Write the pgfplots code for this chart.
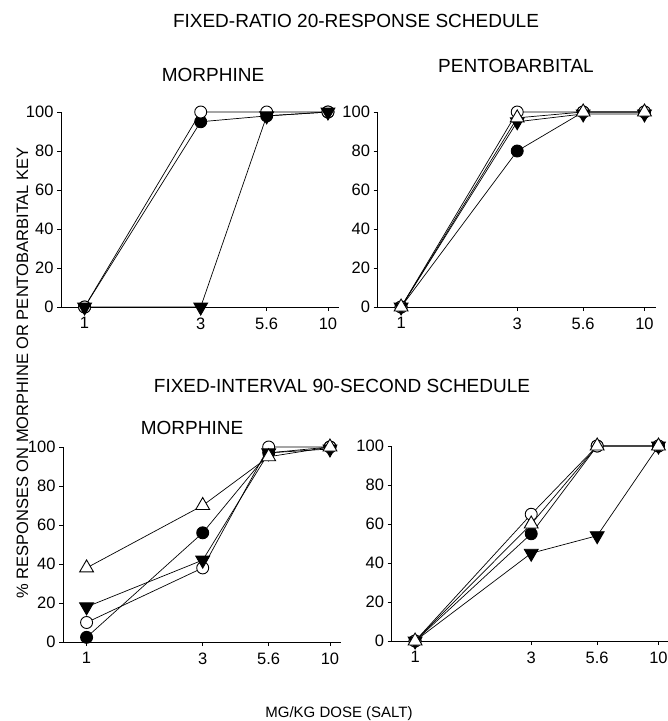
\documentclass[border=0pt]{standalone}
\usepackage{fontspec}
\setmainfont{Liberation Sans}
\usepackage{pgfplots}
\pgfplotsset{compat=1.18}

\pgfplotsset{
  drugpanel/.style={
    scale only axis, width=278bp, height=195bp,
    xmin=0.8, xmax=11.1, ymin=0, ymax=100,
    axis x line*=bottom, axis y line*=left,
    axis line style={-, line width=0.8pt},
    xtick={1,3,5.6,10}, xticklabels={1,3,5.6,10},
    ytick={0,20,40,60,80,100}, yticklabels={0,20,40,60,80,100},
    xminorticks=false,
    tick align=outside, major tick length=4bp,
    tick style={line width=0.8pt, black},
    ticklabel style={font=\fontsize{16.5bp}{18bp}\selectfont},
    xticklabel style={yshift=-3bp},
    clip=false,
  },
  fcirc/.style={black, line width=0.7pt, mark=*, mark size=6bp, mark options={fill=black, line width=0.9pt}},
  ocirc/.style={black, line width=0.7pt, mark=*, mark size=6bp, mark options={fill=white, line width=0.9pt}},
  dtri/.style={black, line width=0.7pt, mark=triangle*, mark size=8bp, mark options={rotate=180, fill=black, line width=0.9pt}},
  otri/.style={black, line width=0.7pt, mark=triangle*, mark size=8bp, mark options={fill=white, line width=0.9pt}},
}

\begin{document}
\begin{tikzpicture}
\path[use as bounding box] (0,0) rectangle (668bp,-721bp);

% fixed-ratio, morphine
\begin{axis}[xmode=log, drugpanel, at={(61bp,-307bp)}, anchor=south west]
\addplot[fcirc] coordinates {(1,0) (3,95) (5.6,98) (10,100)};
\addplot[ocirc] coordinates {(1,0) (3,100) (5.6,100) (10,100)};
\addplot[dtri] coordinates {(1,0) (3,0) (5.6,98) (10,100)};
\end{axis}

% fixed-ratio, pentobarbital
\begin{axis}[xmode=log, drugpanel, at={(377.5bp,-307bp)}, anchor=south west]
\addplot[fcirc] coordinates {(1,0) (3,80) (5.6,100) (10,100)};
\addplot[ocirc] coordinates {(1,0) (3,100) (5.6,100) (10,100)};
\addplot[dtri] coordinates {(1,0) (3,95) (5.6,99) (10,99)};
\addplot[otri] coordinates {(1,0) (3,97) (5.6,100) (10,100)};
\end{axis}

% fixed-interval, morphine
\begin{axis}[xmode=log, drugpanel, at={(63bp,-642bp)}, anchor=south west]
\addplot[fcirc] coordinates {(1,2.4) (3,56) (5.6,97) (10,100)};
\addplot[ocirc] coordinates {(1,10) (3,38) (5.6,100) (10,100)};
\addplot[dtri] coordinates {(1,18) (3,42) (5.6,97) (10,99)};
\addplot[otri] coordinates {(1,38) (3,70) (5.6,95) (10,100)};
\end{axis}

% fixed-interval, pentobarbital
\begin{axis}[xmode=log, drugpanel, at={(391.5bp,-641bp)}, anchor=south west]
\addplot[fcirc] coordinates {(1,0) (3,55) (5.6,100) (10,100)};
\addplot[ocirc] coordinates {(1,0) (3,65) (5.6,100) (10,100)};
\addplot[dtri] coordinates {(1,0) (3,45) (5.6,54) (10,100)};
\addplot[otri] coordinates {(1,0) (3,60) (5.6,100) (10,100)};
\end{axis}

% titles and labels
\node[anchor=base, font=\fontsize{19bp}{22bp}\selectfont] at (356bp,-27.3bp) {FIXED-RATIO 20-RESPONSE SCHEDULE};
\node[anchor=base, font=\fontsize{19bp}{22bp}\selectfont] at (342bp,-392bp) {FIXED-INTERVAL 90-SECOND SCHEDULE};
\node[anchor=base, font=\fontsize{19bp}{22bp}\selectfont] at (213bp,-81bp) {MORPHINE};
\node[anchor=base, font=\fontsize{19bp}{22bp}\selectfont] at (516bp,-72bp) {PENTOBARBITAL};
\node[anchor=base, font=\fontsize{19bp}{22bp}\selectfont] at (192bp,-434bp) {MORPHINE};
\node[anchor=base, font=\fontsize{15bp}{18bp}\selectfont] at (339bp,-717bp) {MG/KG DOSE (SALT)};
\node[anchor=base, rotate=90, font=\fontsize{16.5bp}{18bp}\selectfont] at (28bp,-373bp) {\% RESPONSES ON MORPHINE OR PENTOBARBITAL KEY};
\end{tikzpicture}
\end{document}
